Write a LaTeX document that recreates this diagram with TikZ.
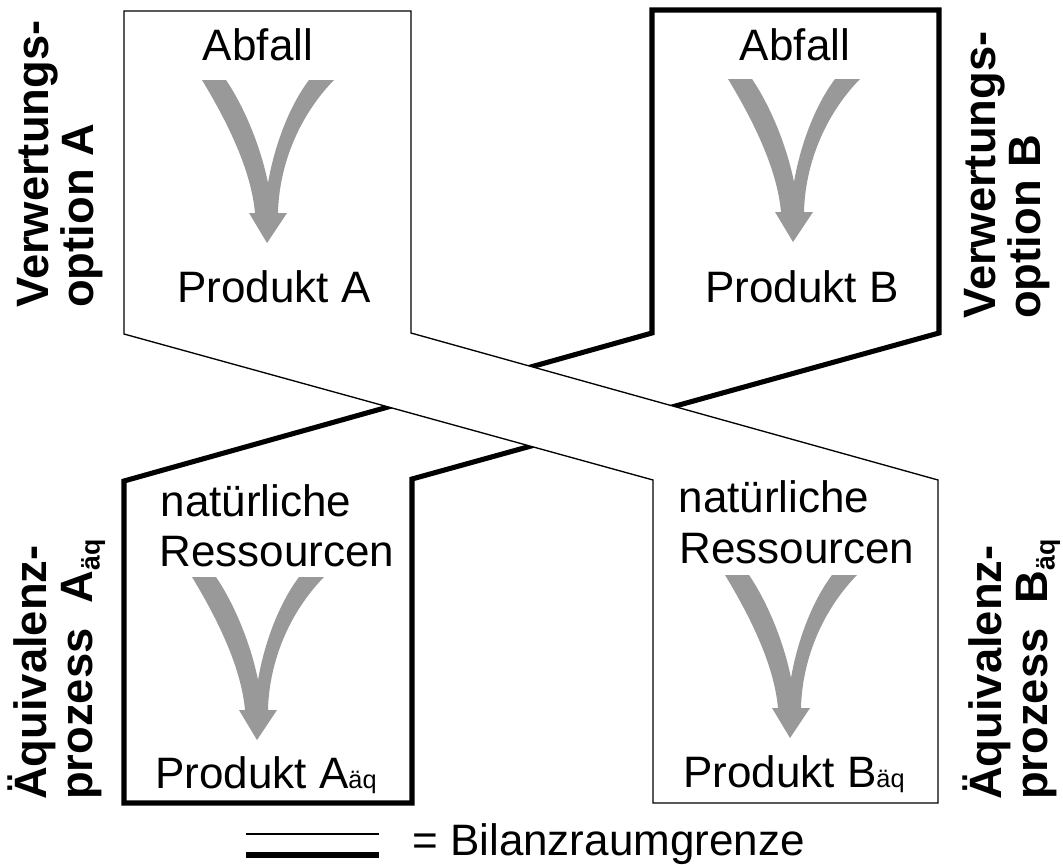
\documentclass[tikz,border=0pt]{standalone}
\usepackage{fontspec}
\setmainfont{Liberation Sans}
\begin{document}
\begin{tikzpicture}[x=0.75pt,y=-0.75pt,
  thinb/.style={draw=black,line width=1pt,fill=white,line join=miter},
  thickb/.style={draw=black,line width=3.8pt,fill=white,line join=miter},
  boxtext/.style={font=\fontsize{33}{36}\selectfont,inner sep=0pt,anchor=base},
  sidelab/.style={font=\bfseries\fontsize{34}{34}\selectfont,inner sep=0pt,rotate=90,align=left,anchor=north west},
  arrowfill/.style={fill=black!40,draw=none},
  flowarr/.pic={
    \fill[arrowfill] (-65,-163) .. controls (-42,-125) and (-16,-75) .. (-12,-30)
      -- (-18,-30) -- (0,0) -- (20,-30) -- (11,-30)
      .. controls (12,-75) and (30,-125) .. (67,-163)
      -- (42,-163) .. controls (21,-135) and (7,-95) .. (1,-60)
      .. controls (-6,-95) and (-22,-135) .. (-41,-163) -- cycle;
  }]
\useasboundingbox (0,0) rectangle (1063,864);
\fill[white] (0,0) rectangle (1063,864);
% thick boundary: option B + equivalent process A
\draw[thickb] (124,481) -- (652,333) -- (652,10) -- (939,10) -- (939,333)
  -- (412,479) -- (412,803) -- (124,803) -- cycle;
% thin boundary: option A + equivalent process B
\draw[thinb] (124,11) -- (411,11) -- (411,333) -- (938,480) -- (938,803)
  -- (653,803) -- (653,480) -- (124,334) -- cycle;
% arrows
\pic at (267,243) {flowarr};
\pic at (793,242) {flowarr};
\pic at (257,740) {flowarr};
\pic at (790,738) {flowarr};
% box texts
\node[boxtext] (abfA) at (258,60) {Abfall};
\node[boxtext] (prodA) at (274,302) {Produkt A};
\node[boxtext] (abfB) at (795,60) {Abfall};
\node[boxtext] (prodB) at (802,302) {Produkt B};
\node[boxtext] (natA) at (256,516) {natürliche};
\node[boxtext] (resA) at (277,566) {Ressourcen};
\node[boxtext,anchor=base west] (prodAaq) at (155,788) {Produkt A{\fontsize{19}{20}\selectfont äq}};
\node[boxtext] (natB) at (774,512) {natürliche};
\node[boxtext] (resB) at (797,563) {Ressourcen};
\node[boxtext,anchor=base west] (prodBaq) at (683,787) {Produkt B{\fontsize{19}{20}\selectfont äq}};
% side labels
\node[sidelab] (optA) at (17,308) {Verwertungs-\\option A};
\node[sidelab] (optB) at (964,319) {Verwertungs-\\option B};
\node[sidelab] (aeqA) at (8,800) {Äquivalenz-\\prozess\ \ A\raisebox{-0.3ex}{\fontsize{20}{21}\selectfont äq}};
\node[sidelab] (aeqB) at (963,800) {Äquivalenz-\\prozess\ \ B\raisebox{-0.3ex}{\fontsize{20}{21}\selectfont äq}};
% legend
\coordinate (l1a) at (246,834);
\coordinate (l1b) at (379,834);
\coordinate (l2a) at (246,855);
\coordinate (l2b) at (379,855);
\draw[line width=1pt] (l1a) -- (l1b);
\draw[line width=4.5pt] (l2a) -- (l2b);
\node[boxtext,anchor=base west] (leg) at (412,855) {= Bilanzraumgrenze};
\end{tikzpicture}
\end{document}
